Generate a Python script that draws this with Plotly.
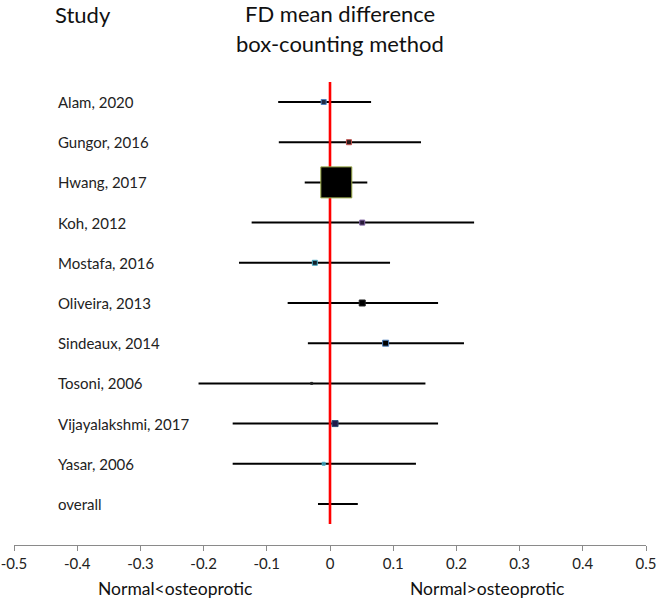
import plotly.graph_objects as go

# ---- data ----
studies = ["Alam, 2020", "Gungor, 2016", "Hwang, 2017", "Koh, 2012", "Mostafa, 2016",
           "Oliveira, 2013", "Sindeaux, 2014", "Tosoni, 2006", "Vijayalakshmi, 2017",
           "Yasar, 2006", "overall"]
estimates = [-0.010, 0.030, 0.010, 0.051, -0.024, 0.051, 0.088, -0.029, 0.008, -0.010, None]
ci_low = [-0.082, -0.081, -0.040, -0.124, -0.144, -0.067, -0.035, -0.208, -0.154, -0.154, -0.019]
ci_high = [0.065, 0.144, 0.059, 0.228, 0.095, 0.171, 0.212, 0.151, 0.171, 0.136, 0.044]
tick_values = [-0.5, -0.4, -0.3, -0.2, -0.1, 0.0, 0.1, 0.2, 0.3, 0.4, 0.5]
tick_labels = ["-0.5", "-0.4", "-0.3", "-0.2", "-0.1", "0", "0.1", "0.2", "0.3", "0.4", "0.5"]

# ---- styles ----
marker_sizes = [5, 5, 31, 5, 5, 6, 6, 2, 6, 3]
marker_fills = ["#1f2a44", "#2a1a1a", "#000000", "#2a1a3a", "#10202a", "#000000",
                "#000000", "#222222", "#1f1a4a", "#3a8aa0"]
marker_borders = ["#4f81bd", "#c0504d", "#9bab4a", "#8064a2", "#4bacc6", "#222222",
                  "#4f81bd", "#222222", "#2c4d75", "#4bacc6"]
FONT = "Lato, 'Open Sans', sans-serif"

rows = list(range(len(studies)))

fig = go.Figure()

# confidence-interval lines
cx, cy = [], []
for i in rows:
    cx += [ci_low[i], ci_high[i], None]
    cy += [i, i, None]
fig.add_trace(go.Scatter(x=cx, y=cy, mode="lines",
                         line=dict(color="black", width=2), hoverinfo="skip"))

# red reference line at zero
fig.add_trace(go.Scatter(x=[0, 0], y=[-0.5, len(studies) - 0.5], mode="lines",
                         line=dict(color="#ff0000", width=2.6), hoverinfo="skip"))

# point estimates
n = len(marker_sizes)
fig.add_trace(go.Scatter(
    x=estimates[:n], y=rows[:n], mode="markers", opacity=1,
    marker=dict(symbol="square", size=marker_sizes, color=marker_fills, opacity=1,
                line=dict(color=marker_borders, width=1)),
    hoverinfo="skip"))

# study labels
for i, s in enumerate(studies):
    fig.add_annotation(x=-0.4335, y=i, xref="x", yref="y", text=s, showarrow=False,
                       xanchor="left", yanchor="middle",
                       font=dict(family=FONT, size=15, color="#222222"))

# headers
fig.add_annotation(x=-0.439, y=0.9725, xref="x", yref="paper", text="Study",
                   showarrow=False, xanchor="left", yanchor="middle",
                   font=dict(family=FONT, size=22, color="#111111"))
fig.add_annotation(x=0.016, y=0.9745, xref="x", yref="paper", text="FD mean difference",
                   showarrow=False, xanchor="center", yanchor="middle",
                   font=dict(family=FONT, size=22, color="#111111"))
fig.add_annotation(x=0.016, y=0.921, xref="x", yref="paper", text="box-counting method",
                   showarrow=False, xanchor="center", yanchor="middle",
                   font=dict(family=FONT, size=22, color="#111111"))

# bottom direction labels
fig.add_annotation(x=-0.2456, y=-0.0807, xref="x", yref="paper", text="Normal&lt;osteoprotic",
                   showarrow=False, xanchor="center", yanchor="middle",
                   font=dict(family=FONT, size=17.5, color="#111111"))
fig.add_annotation(x=0.249, y=-0.0807, xref="x", yref="paper", text="Normal&gt;osteoprotic",
                   showarrow=False, xanchor="center", yanchor="middle",
                   font=dict(family=FONT, size=17.5, color="#111111"))

fig.update_layout(
    width=657, height=602,
    margin=dict(l=14, r=11, t=0, b=57),
    paper_bgcolor="white", plot_bgcolor="white",
    showlegend=False,
    xaxis=dict(range=[-0.5, 0.5], tickvals=tick_values, ticktext=tick_labels,
               showgrid=False, zeroline=False, showline=True, linecolor="#8a8a8a",
               linewidth=1, ticks="outside", ticklen=5, tickcolor="#8a8a8a",
               tickfont=dict(family=FONT, size=15, color="#222222"),
               fixedrange=True),
    yaxis=dict(range=[11.02, -2.537], visible=False, showgrid=False,
               zeroline=False, fixedrange=True),
)

fig.write_html("out.html", config={"displayModeBar": False},
               post_script="document.body.style.margin='0';document.body.style.padding='0';")
